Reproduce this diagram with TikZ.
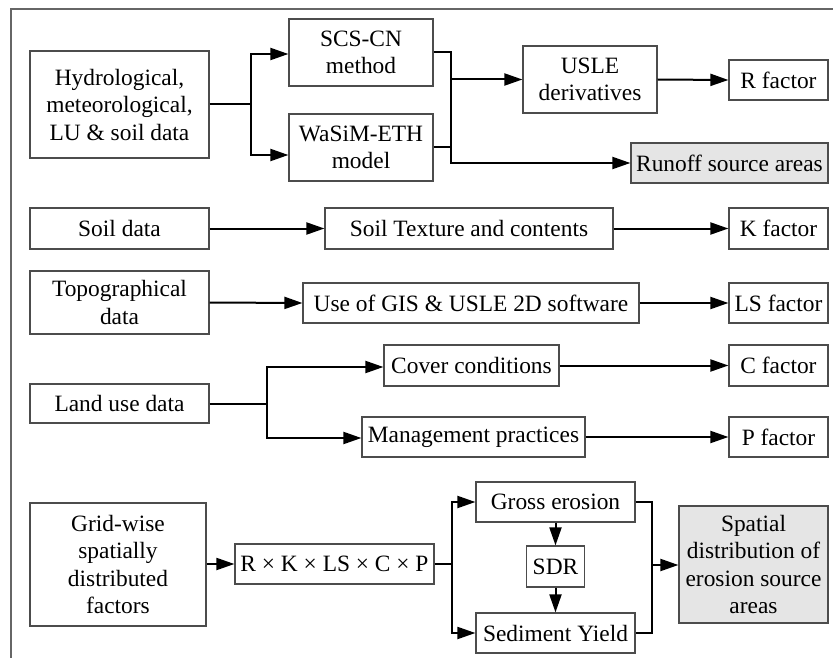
\documentclass[tikz,border=0pt]{standalone}
\usepackage{fontspec}
\setmainfont{Liberation Serif}
\newfontfamily\figfont{Liberation Serif}
\usetikzlibrary{arrows.meta}
\begin{document}
\begin{tikzpicture}[x=1pt,y=-1pt,
  box/.style={draw=black!70, line width=1.2pt, rectangle, inner sep=0pt, align=center,
    font=\figfont\fontsize{23.4}{27.5}\selectfont},
  grbox/.style={box, fill=black!10},
  conn/.style={line width=2pt, black},
  arr/.style={conn, -{Triangle[length=18pt,width=12pt]}},
]
\useasboundingbox (0,0) rectangle (833,658);
\draw[black!60, line width=1.2pt] (11,658) -- (11,9) -- (833,9);

% nodes
\node[box, minimum width=179pt, minimum height=107pt] (hydro) at (119.5,104.5) {Hydrological,\\meteorological,\\LU \& soil data};
\node[box, minimum width=144pt, minimum height=67pt] (scs) at (361,52.5) {SCS-CN\\method};
\node[box, minimum width=144pt, minimum height=67pt] (wasim) at (361,147.5) {WaSiM-ETH\\model};
\node[box, minimum width=134pt, minimum height=67pt] (usle) at (590,79.5) {USLE\\derivatives};
\node[box, minimum width=99pt, minimum height=40pt] (rf) at (778.5,80) {R factor};
\node[grbox, minimum width=197pt, minimum height=40pt] (runoff) at (729.5,163) {Runoff source areas};

\node[box, minimum width=179pt, minimum height=41pt] (soil) at (119.5,228.5) {Soil data};
\node[box, minimum width=288pt, minimum height=41pt] (soiltex) at (469,228.5) {Soil Texture and contents};
\node[box, minimum width=99pt, minimum height=41pt] (kf) at (778.5,228.5) {K factor};

\node[box, minimum width=179pt, minimum height=63pt] (topo) at (119.5,302.5) {Topographical\\data};
\node[box, minimum width=336pt, minimum height=40pt] (gis) at (471,303) {Use of GIS \& USLE 2D software};
\node[box, minimum width=99pt, minimum height=40pt] (lsf) at (778.5,303) {LS factor};

\node[box, minimum width=175pt, minimum height=41pt] (cover) at (471.5,365.5) {Cover conditions};
\node[box, minimum width=99pt, minimum height=41pt] (cf) at (778.5,365.5) {C factor};
\node[box, minimum width=179pt, minimum height=39pt] (land) at (119.5,403.5) {Land use data};
\node[box, minimum width=223pt, minimum height=40pt] (mgmt) at (473.5,437) {Management practices};
\node[box, minimum width=99pt, minimum height=40pt] (pf) at (778.5,437) {P factor};

\node[box, minimum width=176pt, minimum height=123pt] (grid) at (118,564.5) {Grid-wise\\spatially\\distributed\\factors};
\node[box, minimum width=199pt, minimum height=40pt] (rk) at (334.5,564) {R × K × LS × C × P};
\node[box, minimum width=159pt, minimum height=40pt] (gross) at (555.5,502) {Gross erosion};
\node[box, minimum width=58pt, minimum height=41pt] (sdr) at (555.5,566.5) {SDR};
\node[box, minimum width=159pt, minimum height=40pt] (sed) at (555.5,633) {Sediment Yield};
\node[grbox, minimum width=149pt, minimum height=117pt] (spatial) at (753.5,564.5) {Spatial\\distribution of\\erosion source\\areas};

% junction coordinates
\coordinate (jA) at (251,104.5);
\coordinate (jB) at (451,163);
\coordinate (jC) at (267,403.5);
\coordinate (jD) at (452,564);
\coordinate (jE) at (652,565);

% connectors
\draw[conn] (hydro.east) -- (jA);
\draw[arr] (jA) |- ([yshift=-1.5pt]scs.west);
\draw[arr] (jA) |- ([yshift=-7.5pt]wasim.west);
\draw[arr] (scs.east) -| (jB) -- (runoff.west);
\draw[conn] (wasim.east) -- (wasim.east -| jB);
\draw[arr] (usle.west -| jB) -- (usle.west);
\draw[arr] (usle.east) -- (rf.west);

\draw[arr] (soil.east) -- (soiltex.west);
\draw[arr] (soiltex.east) -- (kf.west);
\draw[arr] (topo.east) -- (gis.west);
\draw[arr] (gis.east) -- (lsf.west);

\draw[conn] (land.east) -- (jC);
\draw[arr] (jC) |- ([yshift=-1.5pt]cover.west);
\draw[arr] (jC) |- ([yshift=-1pt]mgmt.west);
\draw[arr] (cover.east |- cf.west) -- (cf.west);
\draw[arr] (mgmt.east) -- (pf.west);

\draw[arr] (grid.east |- rk.west) -- (rk.west);
\draw[conn] (rk.east) -- (jD);
\draw[arr] (jD) |- (gross.west);
\draw[arr] (jD) |- (sed.west);
\draw[arr] (gross.south) -- (sdr.north);
\draw[arr] (sdr.south) -- (sed.north);
\draw[conn] (gross.east) -| (jE) |- (sed.east);
\draw[arr] (jE) -- (jE -| spatial.west);
\end{tikzpicture}
\end{document}
